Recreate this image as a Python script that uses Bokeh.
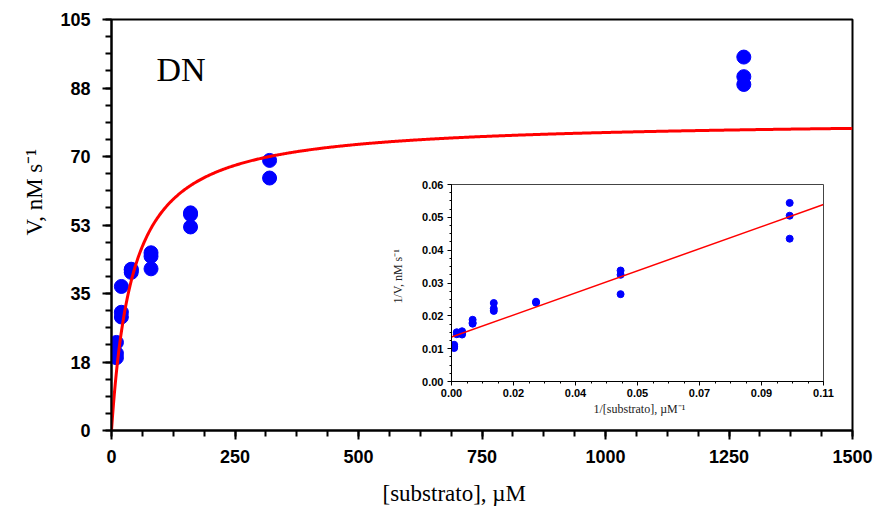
import numpy as np
from bokeh.plotting import figure
from bokeh.models import FixedTicker, Label, Column, Title
from bokeh.embed import file_html
from bokeh.resources import INLINE

# ---------------- data ----------------
# main panel: substrate concentration (uM) and velocity (nM/s)
substrate = [10, 10, 10, 20, 20, 20, 40, 40, 40, 80, 80, 80,
             160, 160, 160, 320, 320, 1280, 1280, 1280]
velocity = [18.6, 19.7, 22.5, 29.0, 30.2, 36.8, 40.4, 41.0, 41.2, 41.3, 44.5, 45.4,
            52.0, 55.2, 55.6, 64.5, 69.0, 88.4, 90.4, 95.4]
# fitted Michaelis-Menten parameters
VMAX = 79.4
KM = 43.0

x_ticks = [0, 250, 500, 750, 1000, 1250, 1500]
x_tick_labels = ["0", "250", "500", "750", "1000", "1250", "1500"]
y_ticks = [0, 17.5, 35, 52.5, 70, 87.5, 105]
y_tick_labels = ["0", "18", "35", "53", "70", "88", "105"]

# inset (Lineweaver-Burk): 1/[S] and 1/V
inv_s = [0.1, 0.1, 0.1, 0.05, 0.05, 0.05, 0.025, 0.025,
         0.0125, 0.0125, 0.0125, 0.00625, 0.00625, 0.00625,
         0.003125, 0.003125, 0.003125, 0.00156, 0.00156,
         0.00078, 0.00078, 0.00078]
inv_v = [0.0544, 0.0505, 0.0435, 0.0338, 0.0325, 0.0266, 0.0243, 0.0240,
         0.0239, 0.0222, 0.0215, 0.0188, 0.0179, 0.0176,
         0.0153, 0.0147, 0.0143, 0.0150, 0.0144,
         0.0112, 0.0107, 0.0102]
LB_INTERCEPT = 0.01353
LB_SLOPE = 0.367

ix_ticks = [0.0, 0.11 / 6, 0.11 / 3, 0.055, 0.11 * 2 / 3, 0.11 * 5 / 6, 0.11]
ix_tick_labels = ["0.00", "0.02", "0.04", "0.05", "0.07", "0.09", "0.11"]
iy_ticks = [0.0, 0.01, 0.02, 0.03, 0.04, 0.05, 0.06]
iy_tick_labels = ["0.00", "0.01", "0.02", "0.03", "0.04", "0.05", "0.06"]

BLUE = "#0000FF"
RED = "#FF0000"
SERIF = "Liberation Serif"
SANS = "Liberation Sans"

# ---------------- main figure ----------------
p = figure(width=874, height=519, x_range=(0, 1500), y_range=(0, 105),
           output_backend="svg", toolbar_location=None,
           min_border_left=111, min_border_right=22,
           min_border_top=19, min_border_bottom=89)
p.frame_align = False
p.xgrid.visible = False
p.ygrid.visible = False
p.outline_line_color = "black"
p.outline_line_width = 2
p.background_fill_color = "white"
p.border_fill_color = "white"

p.xaxis.ticker = FixedTicker(ticks=x_ticks, minor_ticks=list(np.arange(0, 1500.1, 62.5)))
p.xaxis.major_label_overrides = dict(zip(x_ticks, x_tick_labels))
p.yaxis.ticker = FixedTicker(ticks=y_ticks, minor_ticks=list(np.arange(0, 105.1, 4.375)))
p.yaxis.major_label_overrides = dict(zip(y_ticks, y_tick_labels))

for ax in (p.xaxis[0], p.yaxis[0]):
    ax.axis_line_width = 2
    ax.axis_line_color = "black"
    ax.major_tick_line_width = 2
    ax.minor_tick_line_width = 2
    ax.major_tick_in = 0
    ax.major_tick_out = 9
    ax.minor_tick_in = 0
    ax.minor_tick_out = 6
    ax.major_label_text_font = SANS
    ax.major_label_text_font_style = "bold"
    ax.major_label_text_font_size = "18px"
    ax.major_label_text_color = "black"
    # tiny spacer label used only to push the titles outward
    ax.axis_label = " "
    ax.axis_label_text_font_size = "1px"
p.yaxis.major_label_standoff = 12
p.xaxis.major_label_standoff = 10
p.yaxis.axis_label_standoff = 6
p.xaxis.axis_label_standoff = 8

s_curve = np.linspace(0, 1500, 800)
v_curve = VMAX * s_curve / (KM + s_curve)

p.scatter(substrate, velocity, size=14, color=BLUE, line_color=BLUE)
p.line(s_curve, v_curve, line_color=RED, line_width=3)

p.add_layout(Label(x=45, y=361, x_units="screen", y_units="screen", text="DN",
                   text_font=SERIF, text_font_size="34px", text_color="black",
                   text_baseline="alphabetic", text_align="left"))
p.add_layout(Title(text="V, nM s\u207b\u00b9", align="left", offset=195, standoff=2,
                   text_font=SERIF, text_font_size="23px", text_font_style="normal",
                   text_color="black"), "left")
p.add_layout(Title(text="[substrato], \u00b5M", align="left", offset=271, standoff=3,
                   text_font=SERIF, text_font_size="23px", text_font_style="normal",
                   text_color="black"), "below")

# ---------------- inset figure (full-size transparent overlay) ----------------
q = figure(width=874, height=519, x_range=(0, 0.11), y_range=(0, 0.06),
           output_backend="svg", toolbar_location=None,
           min_border_left=451, min_border_right=51,
           min_border_top=184, min_border_bottom=138)
q.frame_align = False
q.xgrid.visible = False
q.ygrid.visible = False
q.outline_line_color = "#444444"
q.outline_line_width = 1
q.background_fill_alpha = 0
q.border_fill_alpha = 0

q.xaxis.ticker = FixedTicker(ticks=ix_ticks, minor_ticks=list(np.arange(0, 0.1101, 0.11 / 24)))
q.xaxis.major_label_overrides = dict(zip(ix_ticks, ix_tick_labels))
q.yaxis.ticker = FixedTicker(ticks=iy_ticks, minor_ticks=list(np.arange(0, 0.06001, 0.0025)))
q.yaxis.major_label_overrides = dict(zip(iy_ticks, iy_tick_labels))
for ax in (q.xaxis[0], q.yaxis[0]):
    ax.axis_line_width = 1
    ax.axis_line_color = "black"
    ax.major_tick_line_width = 1
    ax.minor_tick_line_width = 1
    ax.major_tick_in = 0
    ax.major_tick_out = 4
    ax.minor_tick_in = 0
    ax.minor_tick_out = 2
    ax.major_label_text_font = SANS
    ax.major_label_text_font_style = "bold"
    ax.major_label_text_font_size = "11px"
    ax.major_label_text_color = "black"
q.yaxis.major_label_standoff = 4
q.xaxis.major_label_standoff = 3

lb_x = np.array([0.0, 0.11])
lb_y = LB_INTERCEPT + LB_SLOPE * lb_x
q.scatter(inv_s, inv_v, size=7, color=BLUE, line_color=BLUE)
q.line(lb_x, lb_y, line_color=RED, line_width=1.5)

q.add_layout(Title(text="1/V, nM s\u207b\u00b9", align="left", offset=78, standoff=30,
                   text_font=SERIF, text_font_size="12px", text_font_style="normal",
                   text_color="#222222"), "left")
q.add_layout(Title(text="1/[substrato], \u00b5M\u207b\u00b9", align="left", offset=142, standoff=0,
                   text_font=SERIF, text_font_size="12px", text_font_style="normal",
                   text_color="#222222"), "below")

q.styles = {"position": "absolute", "left": "0px", "top": "0px"}
root = Column(children=[p, q], styles={"position": "relative"})

open("out.html", "w").write(file_html(root, INLINE))
